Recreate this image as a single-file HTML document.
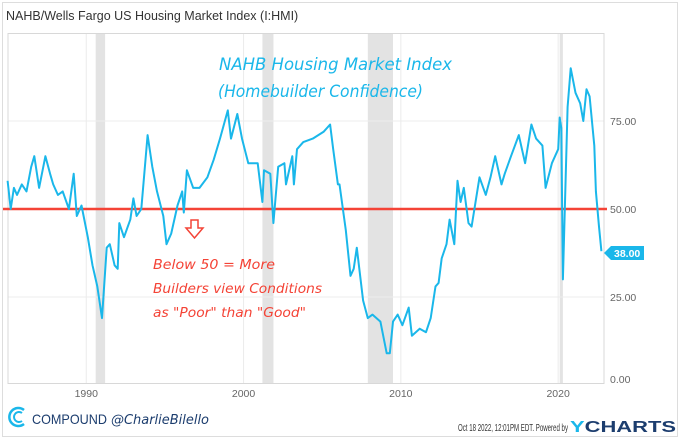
<!DOCTYPE html>
<html><head><meta charset="utf-8"><style>
body{margin:0;background:#fff;font-family:"Liberation Sans",sans-serif;}
svg{display:block}
</style></head><body>
<svg width="680" height="439" viewBox="0 0 680 439" id="c">
<rect x="2.5" y="2.5" width="675" height="434" fill="none" stroke="#ddd"/>
<text x="6" y="20" font-size="12.5" fill="#333">NAHB/Wells Fargo US Housing Market Index (I:HMI)</text>
<g id="rec"></g><g id="grid"></g>
<rect x="8" y="33.5" width="596" height="350" fill="none" stroke="#d8d8d8"/>
<g id="ylab"></g><g id="xlab"></g>
<line x1="3" x2="607" y1="209" y2="209" stroke="#f44336" stroke-width="2.5"/>
<path id="ln" fill="none" stroke="#1ab7ea" stroke-width="2" stroke-linejoin="round"/>
<g><polygon points="604,253 611,246 644,246 644,260 611,260" fill="#1ab7ea"/><text x="614" y="257" font-size="10.5" font-weight="bold" fill="#fff">38.00</text></g>
<text x="219" y="70" font-size="17" fill="#1ab7ea" font-family="DejaVu Sans,sans-serif" font-style="italic" textLength="233" lengthAdjust="spacingAndGlyphs">NAHB Housing Market Index</text>
<text x="218" y="97" font-size="17" fill="#1ab7ea" font-family="DejaVu Sans,sans-serif" font-style="italic" textLength="205" lengthAdjust="spacingAndGlyphs">(Homebuilder Confidence)</text>
<g><path d="M191,220 h7 v8 h5 l-8.5,10 l-8.5,-10 h5 z" fill="none" stroke="#f44336" stroke-width="1.5"/></g>
<g font-size="13" fill="#f44336" font-family="DejaVu Sans,sans-serif" font-style="italic">
<text x="153" y="269" textLength="122" lengthAdjust="spacingAndGlyphs">Below 50 = More</text><text x="153" y="293" textLength="169" lengthAdjust="spacingAndGlyphs">Builders view Conditions</text><text x="153" y="317" textLength="153" lengthAdjust="spacingAndGlyphs">as "Poor" than "Good"</text></g>
<g><path d="M24,410 a9,9 0 1 0 0,14" fill="none" stroke="#1ab7ea" stroke-width="2.5"/><path d="M22,413 a5,5 0 1 0 0,8" fill="none" stroke="#1ab7ea" stroke-width="2"/></g>
<text x="32" y="424" font-size="14" fill="#1c3d6e" textLength="75" lengthAdjust="spacingAndGlyphs">COMPOUND</text>
<text x="111" y="424" font-size="13" fill="#1c3d6e" font-style="italic" font-family="DejaVu Sans,sans-serif" textLength="98" lengthAdjust="spacingAndGlyphs">@CharlieBilello</text>
<text x="458" y="431" font-size="10" fill="#333" textLength="110" lengthAdjust="spacingAndGlyphs">Oct 18 2022, 12:01PM EDT.  Powered by</text>
<text x="570" y="432" font-size="16" font-weight="bold" fill="#1c3d6e" textLength="106" lengthAdjust="spacingAndGlyphs"><tspan fill="#1ab7ea">Y</tspan>CHARTS</text>
</svg>
<script>
const years=[1985,1985.2,1985.4,1985.6,1985.9,1986.2,1986.5,1986.7,1987,1987.4,1987.7,1987.9,1988.2,1988.5,1988.9,1989.2,1989.4,1989.7,1990.1,1990.4,1990.7,1991.0,1991.3,1991.5,1991.8,1992.0,1992.1,1992.4,1992.8,1993.0,1993.2,1993.5,1993.9,1994.2,1994.5,1994.9,1995.1,1995.4,1995.8,1996.1,1996.2,1996.4,1996.8,1997.2,1997.7,1998.1,1998.5,1999.0,1999.2,1999.6,1999.9,2000.3,2000.9,2001.2,2001.3,2001.7,2001.9,2002.2,2002.6,2002.7,2003.1,2003.2,2003.4,2003.8,2004.4,2005.1,2005.5,2005.7,2006.0,2006.1,2006.5,2006.8,2007.0,2007.2,2007.6,2007.9,2008.2,2008.7,2009.1,2009.3,2009.5,2009.8,2010.1,2010.5,2010.7,2011.2,2011.6,2011.9,2012.2,2012.4,2012.6,2012.9,2013.1,2013.4,2013.6,2013.8,2014.0,2014.3,2014.5,2015.0,2015.4,2015.7,2016.0,2016.4,2016.6,2017.0,2017.5,2017.9,2018.3,2018.6,2019.0,2019.2,2019.6,2020.0,2020.1,2020.2,2020.3,2020.6,2020.8,2021.1,2021.4,2021.6,2021.8,2022.0,2022.3,2022.4,2022.6,2022.75];
const values=[58,50,56,54,57,55,62,65,56,65,60,57,54,55,50,60,48,51,42,34,28,19,39,40,34,33,46,42,47,53,48,50,71,62,55,48,40,43,51,55,49,61,56,56,59,64,70,78,70,77,70,63,63,52,61,60,46,62,63,57,65,57,67,69,70,72,74,67,57,57,44,31,33,39,24,19,20,18,9,9,18,20,17,22,14,16,15,19,28,29,36,40,47,40,58,52,56,46,45,59,54,59,65,57,60,65,71,63,74,70,68,56,63,67,76,73,30,79,90,83,80,75,84,82,68,55,45,38];
const yTicks=[0,25,50,75];
const xTicks=[1990,2000,2010,2020];
const recessions=[[1990.6,1991.2],[2001.2,2001.9],[2007.9,2009.5],[2020.1,2020.3]];
const NS='http://www.w3.org/2000/svg';
const X=t=>7.6+(t-1985)*15.73, Y=v=>385-v*3.52;
function mk(tag,attrs,parent){const e=document.createElementNS(NS,tag);for(const k in attrs)e.setAttribute(k,attrs[k]);document.getElementById(parent).appendChild(e);return e;}
recessions.forEach(r=>{const e=mk('rect',{x:X(r[0]),y:34,width:X(r[1])-X(r[0]),height:349,fill:'#e3e3e3'},'rec');

});
yTicks.forEach(v=>{if(v>0){const l=mk('line',{x1:8,x2:604,y1:Y(v),y2:Y(v),stroke:'#ececec'},'grid');

}
const t=mk('text',{x:610,y:Y(v)+(v===0?-2:4),'font-size':10.5,fill:'#666'},'ylab');t.textContent=v.toFixed(2);

});
xTicks.forEach(y=>{const l=mk('line',{x1:X(y),x2:X(y),y1:34,y2:383,stroke:'#ececec'},'grid');


const t=mk('text',{x:X(y),y:397,'font-size':10.5,fill:'#666','text-anchor':'middle'},'xlab');t.textContent=y;

});
document.getElementById('ln').setAttribute('d',years.map((t,i)=>(i?'L':'M')+X(t).toFixed(1)+','+Y(values[i]).toFixed(1)).join(''));
</script>
</body></html>
